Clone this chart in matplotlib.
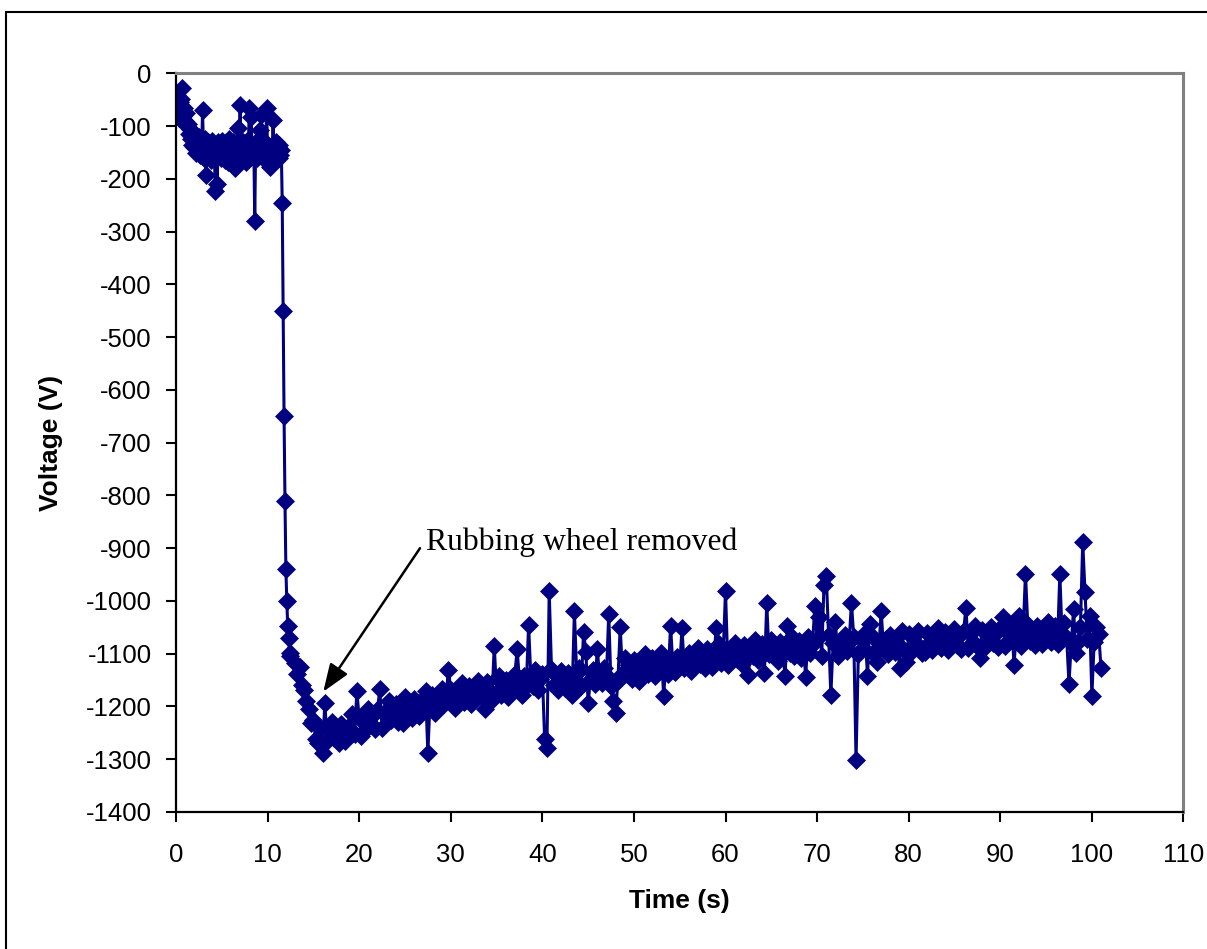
import numpy as np
import matplotlib
matplotlib.use("Agg")
import matplotlib.pyplot as plt
from matplotlib.patches import Rectangle

plt.rcParams['font.family'] = ['Liberation Sans', 'DejaVu Sans']
plt.rcParams['axes.unicode_minus'] = False

# surface voltage log, three pieces sampled at different rates
# before contact (every 0.1 s from 0 s, one row = 1 s)
v_start = [
    -60, -75, -50, -85, -55, -70, -48, -27, -80, -65,
    -90, -75, -100, -95, -115, -105, -125, -110, -135, -120,
    -140, -125, -150, -130, -145, -120, -155, -135, -148, -70,
    -140, -160, -125, -193, -150, -130, -158, -140, -165, -128,
    -150, -135, -162, -222, -145, -210, -130, -155, -138, -160,
    -128, -150, -142, -165, -132, -155, -140, -168, -125, -150,
    -145, -160, -130, -152, -180, -138, -160, -135, -104, -150,
    -59, -145, -162, -130, -155, -140, -168, -128, -150, -142,
    -66, -150, -82, -135, -158, -140, -279, -130, -150, -160,
    -135, -155, -108, -79, -145, -160, -130, -150, -140, -66,
    -150, -135, -160, -177, -140, -155, -89, -145, -165, -130,
    -150, -140, -160, -135, -155, -145]
# charging step (every 0.1 s from 11.6 s)
v_drop = [-245, -450, -650, -810, -940, -1000, -1048, -1070, -1098, -1105]
# after the wheel (every 0.25 s from 13 s, one row = 2 s)
v_decay = [
    -1117, -1138, -1125, -1160, -1168, -1190, -1205, -1232,
    -1225, -1262, -1269, -1240, -1288, -1193, -1265, -1242,
    -1230, -1260, -1242, -1269, -1233, -1253, -1266, -1238,
    -1245, -1215, -1252, -1171, -1222, -1256, -1228, -1242,
    -1204, -1234, -1216, -1243, -1207, -1167, -1240, -1212,
    -1219, -1189, -1226, -1205, -1196, -1230, -1202, -1232,
    -1182, -1212, -1194, -1221, -1185, -1205, -1218, -1190,
    -1201, -1171, -1288, -1187, -1178, -1212, -1184, -1198,
    -1166, -1196, -1178, -1130, -1169, -1189, -1202, -1174,
    -1185, -1155, -1192, -1171, -1162, -1196, -1168, -1182,
    -1151, -1181, -1163, -1204, -1154, -1174, -1187, -1085,
    -1172, -1142, -1179, -1158, -1149, -1183, -1155, -1169,
    -1139, -1092, -1151, -1178, -1142, -1162, -1045, -1147,
    -1161, -1131, -1168, -1147, -1138, -1262, -1279, -982,
    -1129, -1159, -1141, -1168, -1132, -1152, -1165, -1137,
    -1151, -1178, -1019, -1137, -1128, -1162, -1058, -1096,
    -1194, -1149, -1131, -1158, -1092, -1142, -1155, -1127,
    -1141, -1024, -1162, -1190, -1212, -1152, -1049, -1138,
    -1109, -1139, -1121, -1148, -1112, -1132, -1152, -1117,
    -1131, -1101, -1138, -1117, -1108, -1142, -1114, -1128,
    -1099, -1181, -1111, -1138, -1047, -1122, -1135, -1107,
    -1121, -1052, -1128, -1107, -1098, -1132, -1104, -1118,
    -1089, -1119, -1101, -1128, -1092, -1112, -1125, -1097,
    -1052, -1081, -1118, -1097, -981, -1122, -1094, -1108,
    -1080, -1110, -1092, -1119, -1083, -1103, -1140, -1088,
    -1104, -1074, -1111, -1090, -1081, -1136, -1004, -1101,
    -1074, -1104, -1086, -1113, -1077, -1097, -1143, -1048,
    -1098, -1068, -1105, -1084, -1075, -1109, -1081, -1144,
    -1069, -1099, -1081, -1010, -1072, -1031, -1105, -969,
    -952, -1064, -1178, -1080, -1039, -1105, -1077, -1091,
    -1065, -1095, -1077, -1003, -1068, -1301, -1101, -1073,
    -1090, -1060, -1143, -1043, -1067, -1101, -1116, -1087,
    -1019, -1091, -1073, -1100, -1064, -1084, -1097, -1069,
    -1128, -1056, -1093, -1116, -1063, -1097, -1069, -1083,
    -1057, -1087, -1099, -1096, -1060, -1080, -1093, -1065,
    -1082, -1052, -1089, -1068, -1059, -1093, -1065, -1079,
    -1053, -1083, -1065, -1092, -1056, -1013, -1089, -1061,
    -1078, -1048, -1085, -1108, -1055, -1089, -1061, -1075,
    -1049, -1079, -1061, -1088, -1052, -1030, -1085, -1057,
    -1074, -1044, -1121, -1060, -1029, -1085, -1057, -948,
    -1045, -1075, -1057, -1084, -1048, -1068, -1081, -1053,
    -1070, -1040, -1077, -1056, -1047, -1081, -948, -1067,
    -1041, -1071, -1157, -1080, -1016, -1099, -1077, -1049,
    -888, -983, -1073, -1029, -1180, -1077, -1049, -1063,
    -1128]

t_start = 0.0 + 0.1 * np.arange(len(v_start))
t_drop = 11.6 + 0.1 * np.arange(len(v_drop))
t_decay = 13.0 + 0.25 * np.arange(len(v_decay))

time = np.concatenate([t_start, t_drop, t_decay])
voltage = np.concatenate([v_start, v_drop, v_decay])

fig = plt.figure(figsize=(12.07, 9.49), dpi=100)
ax = fig.add_axes([0.1458, 0.1444, 0.8347, 0.7782])

ax.plot(time, voltage, color='#000080', lw=2.2, marker='D', markersize=8.8,
        markeredgewidth=0.5, markeredgecolor='#000080')

ax.set_xlim(0, 110)
ax.set_ylim(-1400, 0)
ax.set_xticks(np.arange(0, 111, 10))
ax.set_yticks(np.arange(-1400, 1, 100))

for side in ['top', 'right']:
    ax.spines[side].set_color('#808080')
    ax.spines[side].set_linewidth(2.2)
for side in ['left', 'bottom']:
    ax.spines[side].set_color('black')
    ax.spines[side].set_linewidth(1.6)

ax.tick_params(axis='both', direction='out', length=7, width=1.5,
               labelsize=18.5, colors='black')
ax.tick_params(axis='x', pad=15.5)
ax.tick_params(axis='y', pad=10.5)

ax.set_xlabel('Time (s)', fontsize=19, fontweight='bold')
ax.set_ylabel('Voltage (V)', fontsize=19, fontweight='bold')
ax.xaxis.set_label_coords(0.5, -0.1205)
ax.xaxis.label.set_va('center')
ax.yaxis.set_label_coords(-0.1236, 0.5)
ax.yaxis.label.set_va('center')

# note and arrow pointing at the voltage minimum
ax.annotate('', xy=(16.08, -1172), xytext=(26.64, -900),
            arrowprops=dict(arrowstyle='-|>,head_length=0.85,head_width=0.32',
                            mutation_scale=20, color='black', lw=1.8,
                            shrinkA=0, shrinkB=0))
ax.text(27.3, -903, 'Rubbing wheel removed', fontsize=22.8,
        family=['Liberation Serif', 'DejaVu Serif'], ha='left', va='baseline')

# chart frame
fig.patches.append(Rectangle((6 / 1207, -0.05), 1.1, 1.05 - 12 / 949,
                             transform=fig.transFigure, fill=False,
                             edgecolor='black', lw=1.5, clip_on=False))

fig.savefig('out.png', dpi=100)
